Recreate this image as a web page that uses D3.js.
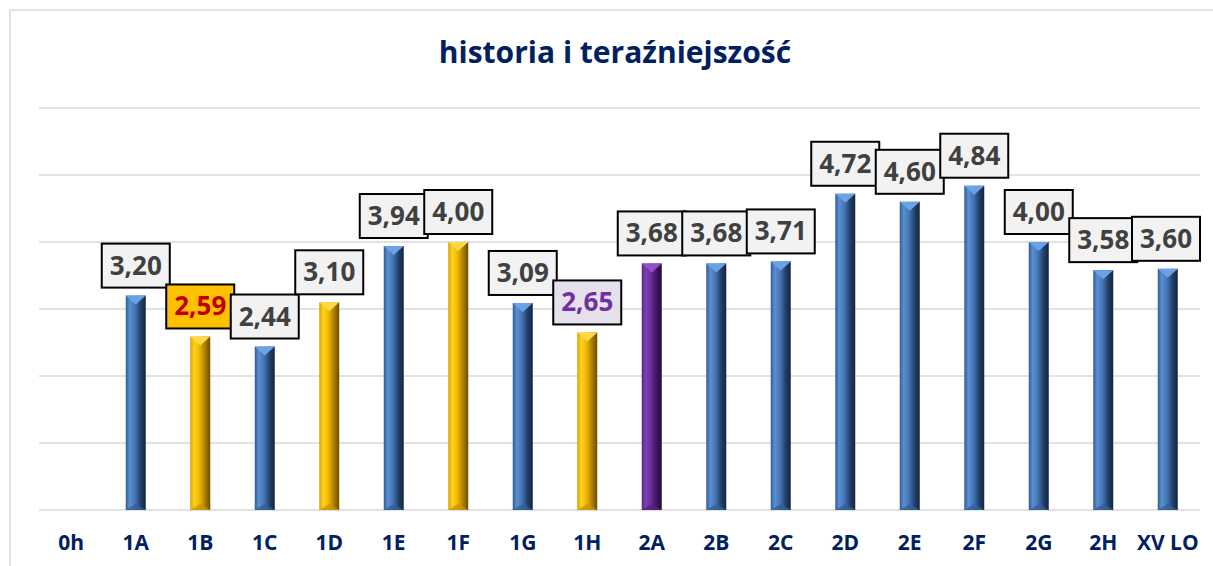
<!DOCTYPE html>
<html>
<head>
<meta charset="utf-8">
<script src="https://cdn.jsdelivr.net/npm/d3@7"></script>
<style>
  body { margin: 0; background: #fff; }
  text { font-family: "Open Sans", "Noto Sans", sans-serif; font-weight: bold; }
</style>
</head>
<body>
<div id="chart-root"></div>
<script>
var categories = ["0h", "1A", "1B", "1C", "1D", "1E", "1F", "1G", "1H", "2A", "2B", "2C", "2D", "2E", "2F", "2G", "2H", "XV LO"];
var values = [null, 3.20, 2.59, 2.44, 3.10, 3.94, 4.00, 3.09, 2.65, 3.68, 3.68, 3.71, 4.72, 4.60, 4.84, 4.00, 3.58, 3.60];
var barColors = ["", "blue", "gold", "blue", "gold", "blue", "gold", "blue", "gold", "purple", "blue", "blue", "blue", "blue", "blue", "blue", "blue", "blue"];
var labelStyles = ["", "plain", "gold", "plain", "plain", "plain", "plain", "plain", "lilac", "plain", "plain", "plain", "plain", "plain", "plain", "plain", "plain", "plain"];
var yTicks = [0, 1, 2, 3, 4, 5, 6];

(function () {
  var width = 1213, height = 566;
  var plot = { left: 39, right: 1200, top: 108, bottom: 510 };

  var svg = d3.select("#chart-root")
    .append("svg")
      .attr("width", width)
      .attr("height", height);

  // palettes for the bevelled bars
  var palette = {
    blue:   { edge: "#2f5d96", light: "#5a8fd2", mid: "#4676b6", dark: "#213f68", darkest: "#14253e", cap: "#6aa2e6", foot: "#335f95" },
    gold:   { edge: "#d9a200", light: "#ffd21f", mid: "#f2b800", dark: "#a87c00", darkest: "#6b4f00", cap: "#ffd84a", foot: "#c89400" },
    purple: { edge: "#5a2488", light: "#7e3fb4", mid: "#6a2e9e", dark: "#40165f", darkest: "#260b3a", cap: "#8f52c6", foot: "#54207c" }
  };
  var labelFill = {
    plain: { bg: "#f2f2f2", fg: "#404040" },
    gold:  { bg: "#ffc000", fg: "#c00000" },
    lilac: { bg: "#e6e0ec", fg: "#7030a0" }
  };

  var defs = svg.append("defs");
  Object.keys(palette).forEach(function (k) {
    var p = palette[k];
    var grad = defs.append("linearGradient")
      .attr("id", "grad-" + k)
      .attr("x1", "0%").attr("x2", "100%").attr("y1", "0%").attr("y2", "0%");
    [[0, p.edge], [0.2, p.light], [0.45, p.mid], [0.75, p.dark], [1, p.darkest]].forEach(function (s) {
      grad.append("stop").attr("offset", s[0] * 100 + "%").attr("stop-color", s[1]);
    });
  });

  // chart area border
  svg.append("path")
    .attr("d", "M10," + height + "V10H" + width)
    .attr("fill", "none")
    .attr("stroke", "#d9d9d9")
    .attr("stroke-width", 1.5);

  var x = d3.scaleBand()
    .domain(categories)
    .range([plot.left, plot.right]);

  var y = d3.scaleLinear()
    .domain([0, 6])
    .range([plot.bottom, plot.top]);

  // gridlines
  svg.append("g")
    .selectAll("line")
    .data(yTicks)
    .enter().append("line")
      .attr("x1", plot.left)
      .attr("x2", plot.right)
      .attr("y1", function (d) { return y(d); })
      .attr("y2", function (d) { return y(d); })
      .attr("stroke", "#d9d9d9")
      .attr("stroke-width", 1.5);

  // title
  svg.append("text")
    .attr("x", 615)
    .attr("y", 63)
    .attr("text-anchor", "middle")
    .attr("fill", "#002060")
    .style("font-size", "30px")
    .text("historia i teraźniejszość");

  // x axis labels
  var xAxis = svg.append("g")
    .attr("transform", "translate(0," + plot.bottom + ")")
    .call(d3.axisBottom(x).tickSize(0).tickPadding(0));
  xAxis.select(".domain").remove();
  xAxis.selectAll("text")
    .attr("dy", null)
    .attr("y", 40)
    .attr("fill", "#002060")
    .style("font-size", "21px")
    .style("font-family", "'Open Sans', sans-serif");

  var rows = categories.map(function (c, i) {
    return { cat: c, value: values[i], color: barColors[i], label: labelStyles[i] };
  }).filter(function (d) { return d.value != null; });

  var barW = 20;
  var bars = svg.append("g").selectAll("g")
    .data(rows)
    .enter().append("g");

  bars.append("rect")
    .attr("x", function (d) { return x(d.cat) + x.bandwidth() / 2 - barW / 2; })
    .attr("y", function (d) { return y(d.value); })
    .attr("width", barW)
    .attr("height", function (d) { return y(0) - y(d.value); })
    .attr("fill", function (d) { return "url(#grad-" + d.color + ")"; });

  // top bevel
  bars.append("path")
    .attr("d", function (d) {
      var cx = x(d.cat) + x.bandwidth() / 2, t = y(d.value);
      return "M" + (cx - barW / 2) + "," + t + "H" + (cx + barW / 2) + "L" + cx + "," + (t + 9) + "Z";
    })
    .attr("fill", function (d) { return palette[d.color].cap; });

  // bottom bevel
  bars.append("path")
    .attr("d", function (d) {
      var cx = x(d.cat) + x.bandwidth() / 2, b = y(0);
      return "M" + (cx - barW / 2) + "," + b + "H" + (cx + barW / 2) + "L" + cx + "," + (b - 6) + "Z";
    })
    .attr("fill", function (d) { return palette[d.color].foot; })
    .attr("opacity", 0.8);

  // data labels, drawn in order so later boxes sit on top
  var fmt = function (v) { return d3.format(".2f")(v).replace(".", ","); };
  var labels = svg.append("g").selectAll("g")
    .data(rows)
    .enter().append("g");

  labels.each(function (d) {
    var g = d3.select(this);
    var cx = x(d.cat) + x.bandwidth() / 2;
    var bottom = y(d.value) - 8;
    var st = labelFill[d.label];
    var txt = g.append("text")
      .attr("text-anchor", "middle")
      .attr("fill", st.fg)
      .style("font-size", "26px")
      .text(fmt(d.value));
    var w = 68;
    var left = Math.min(cx - w / 2, 1200 - w);
    g.insert("rect", "text")
      .attr("x", left)
      .attr("y", bottom - 44)
      .attr("width", w)
      .attr("height", 44)
      .attr("fill", st.bg)
      .attr("stroke", "#000")
      .attr("stroke-width", 2);
    txt.attr("x", left + w / 2).attr("y", bottom - 13);
  });
})();
</script>
</body>
</html>
